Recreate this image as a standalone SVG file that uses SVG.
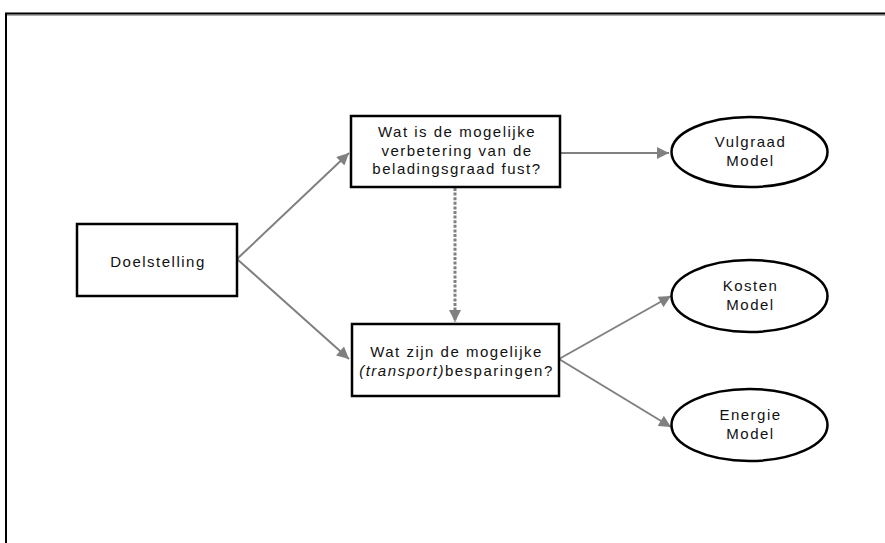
<svg xmlns="http://www.w3.org/2000/svg" width="885" height="543" viewBox="0 0 885 543">
<style>
.box{fill:#fff;stroke:#000;stroke-width:2.5}
.ell{fill:#fff;stroke:#000;stroke-width:2.5}
.t{font-family:"Liberation Sans",Arial,sans-serif;font-size:15px;letter-spacing:1.5px;fill:#111;text-anchor:middle}
.c{stroke:#808080;stroke-width:2;fill:none}
.d{stroke:#808080;stroke-width:3;fill:none;stroke-dasharray:3 1.6}
</style>
<defs>
<marker id="ah" viewBox="0 0 10 10" refX="10" refY="5" markerWidth="7" markerHeight="6" orient="auto" markerUnits="strokeWidth">
<path d="M0,0 L10,5 L0,10 z" fill="#808080"/>
</marker>
<marker id="ahd" viewBox="0 0 10 10" refX="10" refY="5" markerWidth="4.5" markerHeight="4" orient="auto" markerUnits="strokeWidth">
<path d="M0,0 L10,5 L0,10 z" fill="#808080"/>
</marker>
</defs>
<rect width="885" height="543" fill="#fff"/>
<g id="frame">
<line x1="7" y1="15.2" x2="885" y2="15.2" stroke="#888" stroke-width="1"/>
<path d="M6,543 V13.5 H885" fill="none" stroke="#000" stroke-width="2"/>
</g>
<g id="connectors">
<line class="c" x1="237" y1="259" x2="349" y2="153" marker-end="url(#ah)"/>
<line class="c" x1="237" y1="259" x2="349" y2="359" marker-end="url(#ah)"/>
<line class="c" x1="560" y1="153" x2="669" y2="153" marker-end="url(#ah)"/>
<line class="c" x1="559" y1="359" x2="671" y2="296" marker-end="url(#ah)"/>
<line class="c" x1="559" y1="359" x2="671" y2="427" marker-end="url(#ah)"/>
<line class="d" x1="455" y1="188" x2="455" y2="322" marker-end="url(#ahd)"/>
</g>
<g id="doelstelling">
<rect class="box" x="77" y="224" width="160" height="72"/>
<text class="t" x="158" y="267">Doelstelling</text>
</g>
<g id="vraag1">
<rect class="box" x="351" y="116" width="209" height="71"/>
<text class="t" x="457" y="137">Wat is de mogelijke</text>
<text class="t" x="457" y="155.5">verbetering van de</text>
<text class="t" x="457" y="174">beladingsgraad fust?</text>
</g>
<g id="vraag2">
<rect class="box" x="352" y="324" width="207" height="72"/>
<text class="t" x="456.5" y="357">Wat zijn de mogelijke</text>
<text class="t" x="456.5" y="375.5"><tspan font-style="italic">(transport)</tspan>besparingen?</text>
</g>
<g id="vulgraad">
<ellipse class="ell" cx="749.5" cy="152" rx="78" ry="35"/>
<text class="t" x="750.5" y="147">Vulgraad</text>
<text class="t" x="750.5" y="165.5">Model</text>
</g>
<g id="kosten">
<ellipse class="ell" cx="749.5" cy="296" rx="78" ry="36"/>
<text class="t" x="750.5" y="291">Kosten</text>
<text class="t" x="750.5" y="310">Model</text>
</g>
<g id="energie">
<ellipse class="ell" cx="749.5" cy="425" rx="78" ry="36"/>
<text class="t" x="750.5" y="420">Energie</text>
<text class="t" x="750.5" y="439">Model</text>
</g>
</svg>
